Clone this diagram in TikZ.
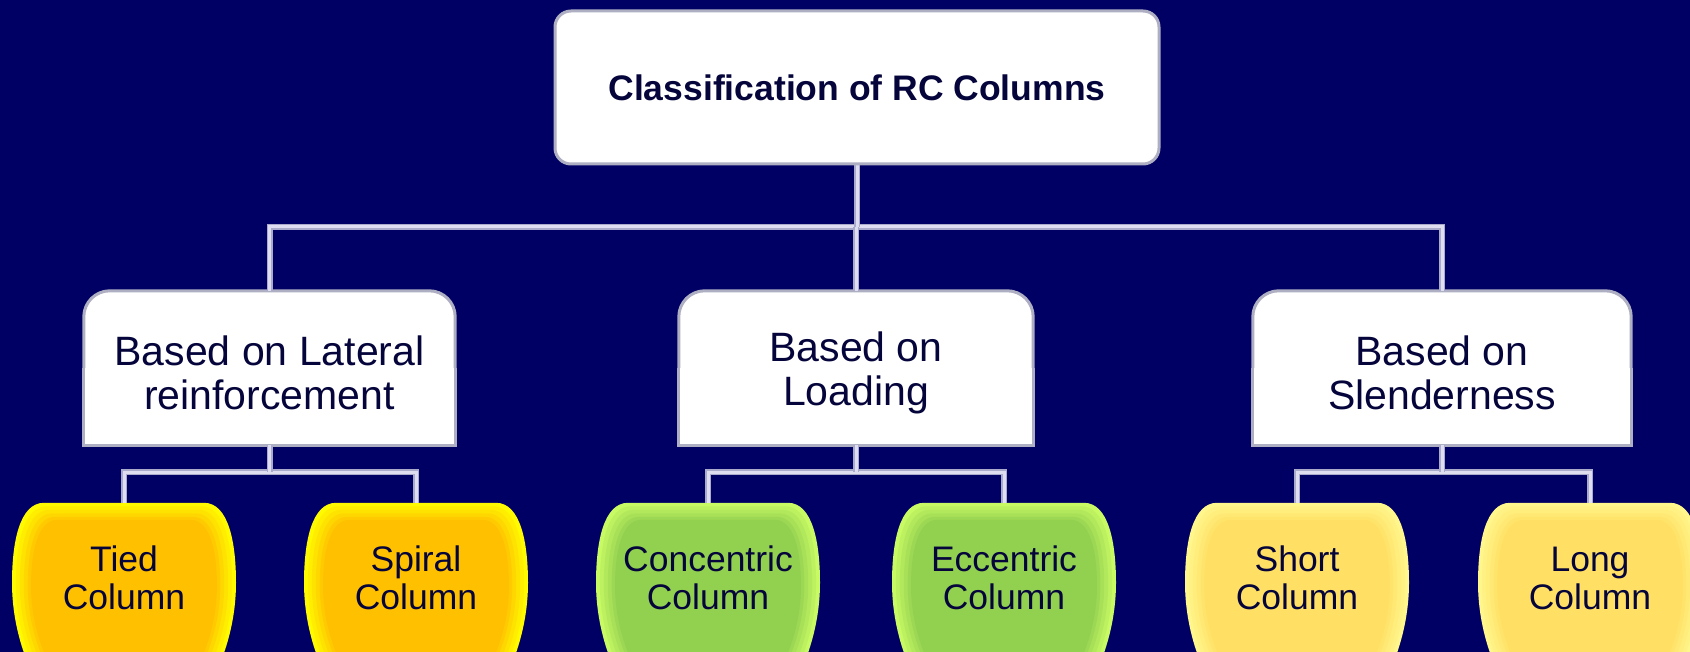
\documentclass[tikz,border=0pt]{standalone}
\usepackage{fontspec}
\setmainfont{Liberation Sans}
\usetikzlibrary{backgrounds}
\definecolor{bgnavy}{RGB}{0,0,100}
\definecolor{txt}{RGB}{5,5,60}
\definecolor{conn}{RGB}{222,222,240}
\definecolor{connedge}{RGB}{170,170,202}
\definecolor{bevel}{RGB}{175,175,195}
\definecolor{orrim}{RGB}{255,250,0}
\definecolor{orcore}{RGB}{255,192,0}
\definecolor{grrim}{RGB}{200,250,100}
\definecolor{grcore}{RGB}{146,208,80}
\definecolor{ylrim}{RGB}{255,246,140}
\definecolor{ylcore}{RGB}{255,224,100}
\tikzset{
  topbox/.style={minimum width=604pt, minimum height=153pt, inner sep=0pt,
    fill=white, draw=bevel, line width=3pt, rounded corners=16pt,
    text=txt, font=\fontsize{35.5}{40}\bfseries\selectfont},
  midbox/.style={minimum height=154pt, inner sep=0pt, text=txt, align=center,
    font=\fontsize{41}{44}\selectfont},
  leaftext/.style={minimum width=224pt, minimum height=150pt, inner sep=0pt,
    text=txt, align=center, font=\fontsize{35.5}{38}\selectfont},
  link/.style={draw=connedge, line width=1.5pt, double=conn, double distance=3pt},
}
\newcommand\leafshape[3]{%
  \begin{scope}[shift={(#1.north)}]
    \foreach \s/\m in {1/100,0.965/80,0.93/60,0.895/40,0.86/20,0.83/0}{
      \fill[#2!\m!#3, shift={(0,100)}, scale=\s, shift={(0,-100)}]
        (-80,0) -- (80,0) .. controls (104,0) and (112,38) .. (112,80)
        .. controls (112,120) and (100,165) .. (72,205) -- (-72,205)
        .. controls (-100,165) and (-112,120) .. (-112,80)
        .. controls (-112,38) and (-104,0) .. (-80,0) -- cycle;
    }
  \end{scope}}
\newcommand\midshape[1]{%
  \fill[white, rounded corners=26pt] (#1.south west) rectangle (#1.north east);
  \fill[white] (#1.west) rectangle (#1.south east);
  \draw[bevel, line width=3pt, rounded corners=26pt]
    (#1.west) -- (#1.north west) -- (#1.north east) -- (#1.east);
  \draw[bevel, line width=3pt] (#1.west) -- (#1.south west) -- (#1.south east) -- (#1.east);}
\newcommand\up{\rule{0pt}{40pt}}
\begin{document}
\begin{tikzpicture}[x=1pt,y=-1pt]
\useasboundingbox (0,0) rectangle (1690,652);
% nodes
\node[topbox] (top) at (857,87.5) {Classification of RC Columns};
\node[midbox, minimum width=371pt] (m1) at (269.5,368) {\up Based on Lateral\\reinforcement};
\node[midbox, minimum width=354pt] (m2) at (856,368) {\up Based on\\Loading};
\node[midbox, minimum width=378pt] (m3) at (1442,368) {\up Based on\\Slenderness};
\node[leaftext] (l1) at (124,578) {Tied\\Column};
\node[leaftext] (l2) at (416,578) {Spiral\\Column};
\node[leaftext] (l3) at (708,578) {Concentric\\Column};
\node[leaftext] (l4) at (1004,578) {Eccentric\\Column};
\node[leaftext] (l5) at (1297,578) {Short\\Column};
\node[leaftext] (l6) at (1590,578) {Long\\Column};
\coordinate (bus0) at (857,227);
\coordinate (bus1) at (m1.south |- 0,472);
\coordinate (bus2) at (m2.south |- 0,472);
\coordinate (bus3) at (m3.south |- 0,472);
\begin{scope}[on background layer]
  \fill[bgnavy] (0,0) rectangle (1690,652);
  \leafshape{l1}{orrim}{orcore}
  \leafshape{l2}{orrim}{orcore}
  \leafshape{l3}{grrim}{grcore}
  \leafshape{l4}{grrim}{grcore}
  \leafshape{l5}{ylrim}{ylcore}
  \leafshape{l6}{ylrim}{ylcore}
  \midshape{m1}
  \midshape{m2}
  \midshape{m3}
  % connectors
  \draw[link] (m1.north) |- (m3.north |- bus0) -- (m3.north);
  \draw[link] (top.south) -- (bus0);
  \draw[link] (m2.north) -- (m2.north |- bus0);
  \draw[link] (l1.north) |- (l2.north |- bus1) -- (l2.north);
  \draw[link] (m1.south) -- (bus1);
  \draw[link] (l3.north) |- (l4.north |- bus2) -- (l4.north);
  \draw[link] (m2.south) -- (bus2);
  \draw[link] (l5.north) |- (l6.north |- bus3) -- (l6.north);
  \draw[link] (m3.south) -- (bus3);
\end{scope}
\end{tikzpicture}
\end{document}
